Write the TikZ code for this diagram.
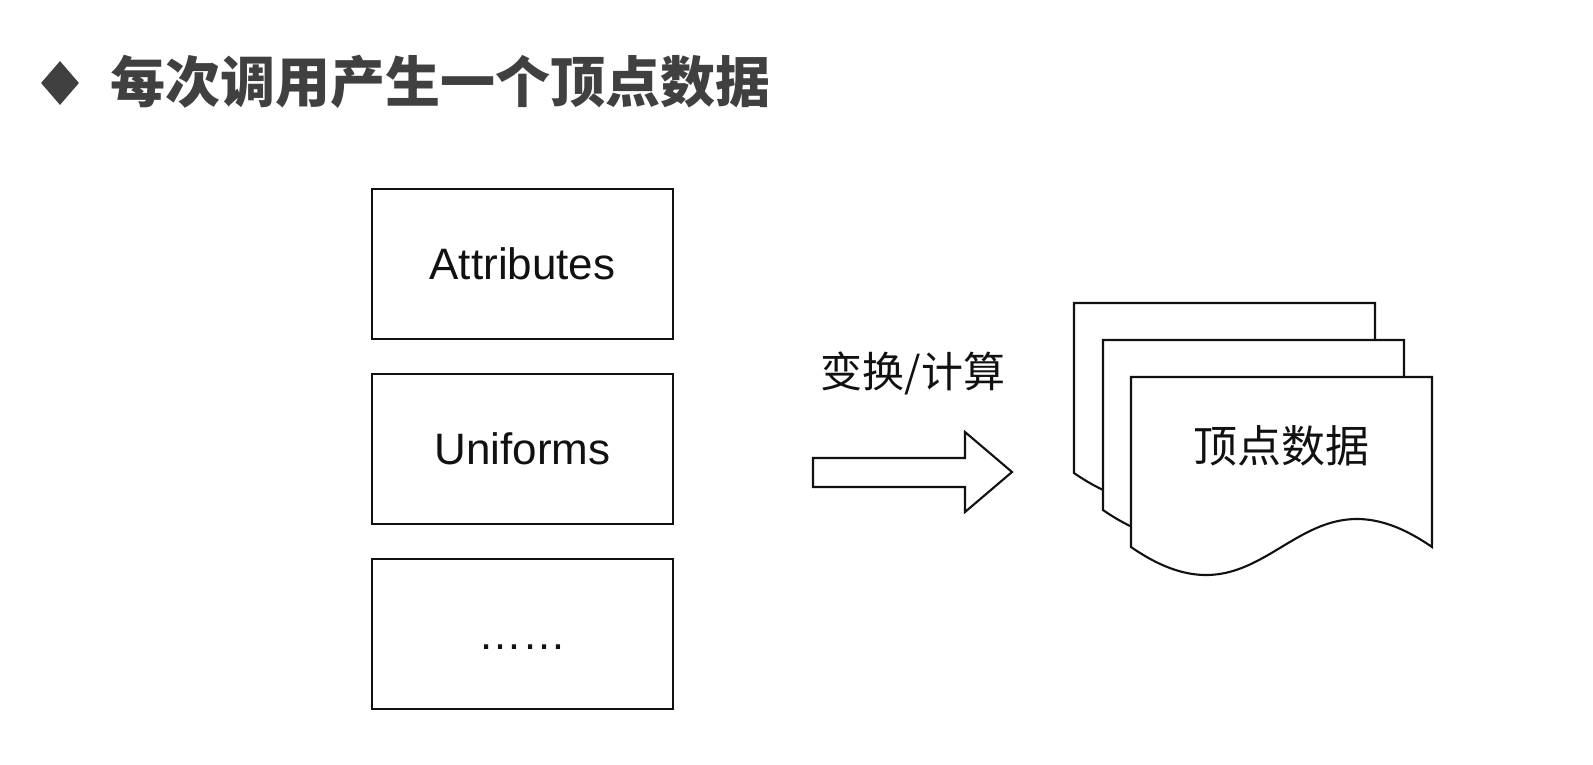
\documentclass[tikz,border=0pt]{standalone}
\usepackage{fontspec}
\setmainfont{Liberation Sans}
\newfontfamily\cjk{Noto Sans CJK SC}
\usetikzlibrary{shapes.geometric}
\definecolor{titlegray}{HTML}{404040}
\definecolor{inkblack}{HTML}{111111}
\tikzset{
  inbox/.style={draw=inkblack, line width=2.1pt, minimum width=301pt, minimum height=150pt,
    inner sep=0pt, font=\fontsize{44}{50}\selectfont, text=inkblack,
    text height=30pt, text depth=0pt},
  docsheet/.style={draw=inkblack, fill=white, line width=2.1pt, line join=miter},
  blockarrow/.style={draw=inkblack, fill=white, line width=2.1pt, line join=miter},
  cjklabel/.style={font=\cjk\fontsize{42}{48}\selectfont, text=inkblack, inner sep=0pt},
}
\begin{document}
\begin{tikzpicture}[x=1pt, y=-1pt]
\useasboundingbox (0,0) rectangle (1593,764);
% title
\node (bullet) [diamond, fill=titlegray, inner sep=0pt, minimum width=38pt, minimum height=44pt] at (60,83) {};
\node (title) [anchor=west, inner sep=0pt, text=titlegray, font=\cjk\bfseries\fontsize{55}{60}\selectfont] at (110,82) {每次调用产生一个顶点数据};
% input boxes
\node (attr) [inbox] at (522.5,264) {Attributes};
\node (unif) [inbox] at (522.5,449) {Uniforms};
\node (more) [inbox] at (522.5,634) {……};
% block arrow
\draw[blockarrow] (813,458) -- (965,458) -- (965,432) -- (1012,472) -- (965,512) -- (965,487) -- (813,487) -- cycle;
\node (calc) [cjklabel] at (913,373) {变换/计算};
% stacked documents
\draw[docsheet] (1074,303) -- (1375,303) -- (1375,473) .. controls (1235,376) and (1214,570) .. (1074,473) -- cycle;
\draw[docsheet] (1103,340) -- (1404,340) -- (1404,510) .. controls (1264,413) and (1243,607) .. (1103,510) -- cycle;
\draw[docsheet] (1131,377) -- (1432,377) -- (1432,547) .. controls (1292,450) and (1271,644) .. (1131,547) -- cycle;
\node (vdata) [cjklabel, font=\cjk\fontsize{44}{50}\selectfont] at (1281,446) {顶点数据};
\end{tikzpicture}
\end{document}
